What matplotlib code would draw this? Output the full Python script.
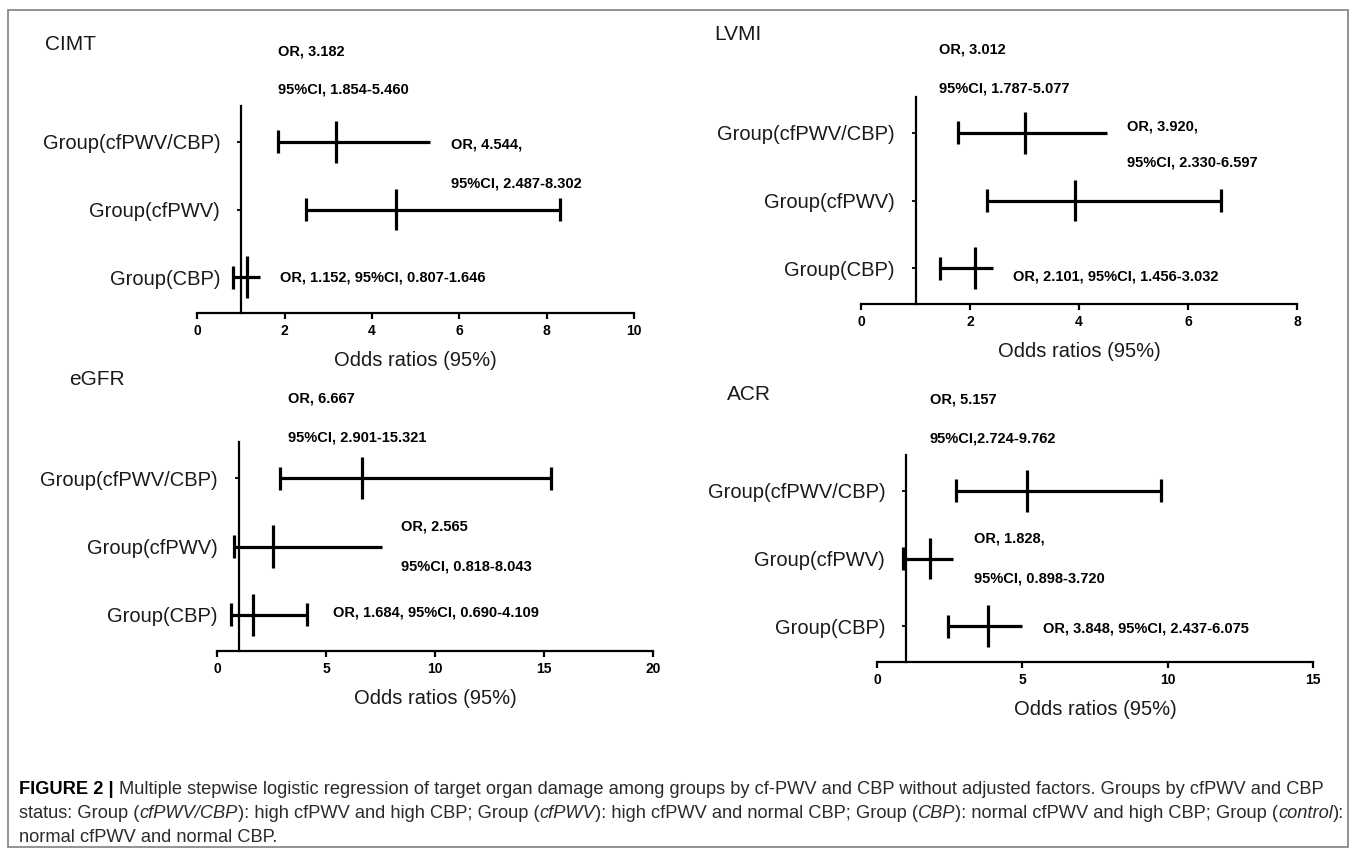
import matplotlib
matplotlib.use('Agg')
import matplotlib.pyplot as plt
from matplotlib.patches import Rectangle

plt.rcParams['font.family'] = ['Liberation Sans', 'DejaVu Sans']

W, H = 1357, 851

groupes = ['Group(cfPWV/CBP)', 'Group(cfPWV)', 'Group(CBP)']
rangs = [3, 2, 1]

# valeurs (OR, borne basse, borne haute tracée)
cimt_or = [3.18, 4.54, 1.14]
cimt_bas = [1.84, 2.48, 0.81]
cimt_haut = [5.34, 8.31, 1.44]
cimt_cap = [False, True, False]
cimt_ticks = [0, 2, 4, 6, 8, 10]

lvmi_or = [3.01, 3.92, 2.10]
lvmi_bas = [1.78, 2.32, 1.45]
lvmi_haut = [4.51, 6.60, 2.43]
lvmi_cap = [False, True, False]
lvmi_ticks = [0, 2, 4, 6, 8]

egfr_or = [6.67, 2.55, 1.65]
egfr_bas = [2.89, 0.80, 0.66]
egfr_haut = [15.32, 7.56, 4.12]
egfr_cap = [True, False, True]
egfr_ticks = [0, 5, 10, 15, 20]

acr_or = [5.17, 1.83, 3.83]
acr_bas = [2.72, 0.89, 2.45]
acr_haut = [9.77, 2.60, 4.99]
acr_cap = [True, False, False]
acr_ticks = [0, 5, 10, 15]

cimt_notes = ['OR, 3.182', '95%CI, 1.854-5.460', 'OR, 4.544,', '95%CI, 2.487-8.302',
              'OR, 1.152, 95%CI, 0.807-1.646']
lvmi_notes = ['OR, 3.012', '95%CI, 1.787-5.077', 'OR, 3.920,', '95%CI, 2.330-6.597',
              'OR, 2.101, 95%CI, 1.456-3.032']
egfr_notes = ['OR, 6.667', '95%CI, 2.901-15.321', 'OR, 2.565', '95%CI, 0.818-8.043',
              'OR, 1.684, 95%CI, 0.690-4.109']
acr_notes = ['OR, 5.157', '95%CI,2.724-9.762', 'OR, 1.828,', '95%CI, 0.898-3.720',
             'OR, 3.848, 95%CI, 2.437-6.075']

fig = plt.figure(figsize=(W / 100, H / 100), dpi=100)


def rect_px(x0, x1, yhaut, ybas):
    return [x0 / W, 1 - ybas / H, (x1 - x0) / W, (ybas - yhaut) / H]


def panneau(rect, titre, titre_xy, or_vals, bas, haut, cap, xmax, ticks, notes, notes_xy):
    ax = fig.add_axes(rect)
    ax.set_xlim(0, xmax)
    ax.set_ylim(0.47, 3.53)
    ax.patch.set_alpha(0)
    ax.spines['top'].set_visible(False)
    ax.spines['right'].set_visible(False)
    ax.spines['left'].set_position(('data', 1))
    ax.spines['left'].set_linewidth(1.6)
    ax.spines['bottom'].set_linewidth(1.6)

    ax.hlines(rangs, bas, haut, color='black', lw=2.3)
    ax.vlines(or_vals, [r - 0.31 for r in rangs], [r + 0.31 for r in rangs], color='black', lw=2.3)
    ax.vlines(bas, [r - 0.17 for r in rangs], [r + 0.17 for r in rangs], color='black', lw=2.3)
    hx = [h for h, c in zip(haut, cap) if c]
    hr = [r for r, c in zip(rangs, cap) if c]
    ax.vlines(hx, [r - 0.17 for r in hr], [r + 0.17 for r in hr], color='black', lw=2.3)

    ax.set_xticks(ticks)
    ax.set_xticklabels([str(t) for t in ticks], fontsize=10, fontweight='bold')
    ax.set_yticks(rangs)
    ax.set_yticklabels(groupes, fontsize=14.5, color='#1a1a1a')
    ax.tick_params(axis='x', direction='out', length=4, width=1.6, pad=4)
    ax.tick_params(axis='y', direction='out', length=3, width=1.3, pad=12)
    ax.set_xlabel('Odds ratios (95%)', fontsize=14.5, labelpad=9, color='#1a1a1a')

    for txt, (x, y) in zip(notes, notes_xy):
        ax.text(x, y, txt, fontsize=10.5, fontweight='bold', va='center', ha='left', clip_on=False)
    fig.text(titre_xy[0] / W, 1 - titre_xy[1] / H, titre, fontsize=15, va='center', color='#1a1a1a')


panneau(rect_px(197.3, 634, 106, 313), 'CIMT', (45, 45), cimt_or, cimt_bas, cimt_haut, cimt_cap,
        10, cimt_ticks, cimt_notes, [(1.84, 4.33), (1.84, 3.77), (5.8, 2.96), (5.8, 2.39), (1.89, 1.0)])
panneau(rect_px(861, 1297, 97, 304), 'LVMI', (714, 35), lvmi_or, lvmi_bas, lvmi_haut, lvmi_cap,
        8, lvmi_ticks, lvmi_notes, [(1.43, 4.23), (1.43, 3.65), (4.88, 3.09), (4.88, 2.56), (2.79, 0.88)])
panneau(rect_px(217, 653, 442, 651), 'eGFR', (69, 380), egfr_or, egfr_bas, egfr_haut, egfr_cap,
        20, egfr_ticks, egfr_notes, [(3.26, 4.17), (3.26, 3.59), (8.44, 2.30), (8.44, 1.71), (5.32, 1.04)])
panneau(rect_px(877, 1313, 455, 662), 'ACR', (727, 395), acr_or, acr_bas, acr_haut, acr_cap,
        15, acr_ticks, acr_notes, [(1.82, 4.35), (1.82, 3.77), (3.33, 2.30), (3.33, 1.71), (5.70, 0.97)])

# cadre autour de la figure
fig.patches.append(Rectangle((8 / W, 1 - 847 / H), 1340 / W, 837 / H, transform=fig.transFigure,
                             fill=False, edgecolor='#808080', lw=1.2))

# légende de la figure
ligne1 = [('FIGURE 2 |', 'b', False),
          ('Multiple stepwise logistic regression of target organ damage among groups by cf-PWV and CBP '
           'without adjusted factors. Groups by cfPWV and CBP', 'n', True)]
ligne2 = [('status: Group (', 'n', False), ('cfPWV/CBP', 'i', False),
          ('): high cfPWV and high CBP; Group (', 'n', False), ('cfPWV', 'i', False),
          ('): high cfPWV and normal CBP; Group (', 'n', False), ('CBP', 'i', False),
          ('): normal cfPWV and high CBP; Group (', 'n', False), ('control', 'i', False),
          ('):', 'n', False)]
ligne3 = [('normal cfPWV and normal CBP.', 'n', False)]

renderer = fig.canvas.get_renderer()


def ecrire(txt, x, y, taille, style):
    return fig.text(x / W, 1 - y / H, txt, fontsize=taille, va='center', ha='left',
                    fontweight='bold' if style == 'b' else 'normal',
                    fontstyle='italic' if style == 'i' else 'normal',
                    color='black' if style == 'b' else '#2b2b2b')


def largeur(txt, taille, style):
    t = ecrire(txt, 0, 0, taille, style)
    w = t.get_window_extent(renderer).width
    t.remove()
    return w


def espace(taille):
    return largeur('a a', taille, 'n') - largeur('aa', taille, 'n')


def ligne(morceaux, x, y, taille):
    for txt, style, sp in morceaux:
        if sp:
            x += espace(taille)
        t = ecrire(txt, x, y, taille, style)
        x += t.get_window_extent(renderer).width


taille = 12
w1 = sum(largeur(t, taille, s) for t, s, _ in ligne1) + espace(taille)
taille = taille * 1306 / w1

ligne(ligne1, 19, 789, taille)
ligne(ligne2, 19, 813, taille)
ligne(ligne3, 19, 837, taille)

fig.savefig('out.png', dpi=100)
